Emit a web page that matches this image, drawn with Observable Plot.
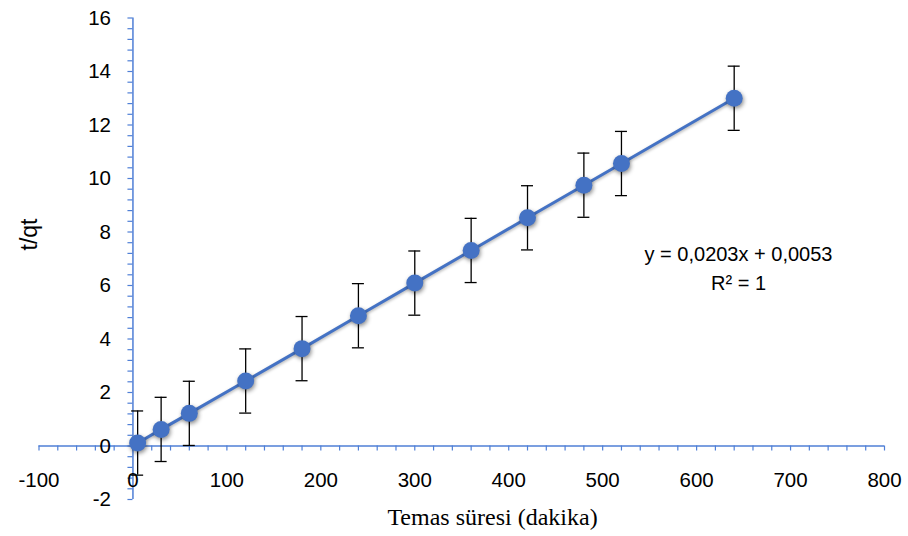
<!DOCTYPE html>
<html>
<head>
<meta charset="utf-8">
<script src="https://cdn.jsdelivr.net/npm/d3@7"></script>
<script src="https://cdn.jsdelivr.net/npm/@observablehq/plot@0.6"></script>
<style>
  html, body { margin: 0; padding: 0; background: #fff; }
  #chart { width: 908px; height: 536px; }
</style>
</head>
<body>
<div id="chart"></div>
<script>
// Data
const times = [5, 30, 60, 120, 180, 240, 300, 360, 420, 480, 520, 640];
const tqt = [0.11, 0.62, 1.22, 2.43, 3.64, 4.87, 6.09, 7.31, 8.53, 9.75, 10.56, 13.0];
const errors = [1.2, 1.2, 1.2, 1.2, 1.2, 1.2, 1.2, 1.2, 1.2, 1.2, 1.2, 1.2];
const xTickLabels = [-100, 0, 100, 200, 300, 400, 500, 600, 700, 800];
const yTickLabels = [-2, 0, 2, 4, 6, 8, 10, 12, 14, 16];
const equationLines = ["y = 0,0203x + 0,0053", "R² = 1"];
const xTitle = "Temas süresi (dakika)";
const yTitle = "t/qt";

const data = times.map((t, i) => ({x: t, y: tqt[i], e: errors[i]}));
const xMinor = d3.range(xTickLabels[0], xTickLabels[xTickLabels.length - 1] + 1, 20);
const yMinor = d3.range(yTickLabels[0], yTickLabels[yTickLabels.length - 1] + 0.01, 0.4).map(v => +v.toFixed(2));

const blue = "#4472C4";
const axisBlue = "#4F7FD6";
const sans = "Liberation Sans, Arial, sans-serif";
const serif = "Liberation Serif, Times New Roman, serif";

const plot = Plot.plot({
  width: 908,
  height: 536,
  margin: 0,
  x: {domain: [xTickLabels[0], xTickLabels[xTickLabels.length - 1]], range: [38.5, 884]},
  y: {domain: [yTickLabels[0], yTickLabels[yTickLabels.length - 1]], range: [499, 17.5]},
  axis: null,
  style: {background: "#fff"},
  marks: [
    // axis lines crossing at origin
    Plot.ruleY([0], {x1: () => xTickLabels[0], x2: () => xTickLabels[xTickLabels.length - 1], stroke: axisBlue, strokeWidth: 1.5}),
    Plot.ruleX([0], {y1: () => yTickLabels[0], y2: () => yTickLabels[yTickLabels.length - 1], stroke: axisBlue, strokeWidth: 1.5}),
    // tick marks
    Plot.ruleX(xMinor, {x: d => d, y1: () => 0, y2: () => 0, insetTop: 0, insetBottom: -5, stroke: axisBlue, strokeWidth: 1.2}),
    Plot.ruleY(yMinor, {y: d => d, x1: () => 0, x2: () => 0, insetLeft: -5, insetRight: 0, stroke: axisBlue, strokeWidth: 1.2}),
    // tick labels
    Plot.text(xTickLabels, {x: d => d, y: () => 0, dy: 34, text: d => String(d), fontSize: 20.5, fontFamily: sans, fill: "#000"}),
    Plot.text(yTickLabels, {x: () => 0, y: d => d, dx: -22, text: d => String(d), textAnchor: "end", fontSize: 20.5, fontFamily: sans, fill: "#000"}),
    // error bars
    Plot.ruleX(data, {x: "x", y1: d => d.y - d.e, y2: d => d.y + d.e, stroke: "#000", strokeWidth: 1.3}),
    Plot.ruleY(data, {y: d => d.y + d.e, x1: "x", x2: "x", insetLeft: -6, insetRight: -6, stroke: "#000", strokeWidth: 1.3}),
    Plot.ruleY(data, {y: d => d.y - d.e, x1: "x", x2: "x", insetLeft: -6, insetRight: -6, stroke: "#000", strokeWidth: 1.3}),
    // series line and markers
    Plot.line(data, {x: "x", y: "y", stroke: blue, strokeWidth: 3}),
    Plot.dot(data, {x: "x", y: "y", r: 8.5, fill: blue, stroke: "none"}),
    // trendline equation
    Plot.text([equationLines[0]], {frameAnchor: "top-left", dx: 738, dy: 254, textAnchor: "middle", lineAnchor: "middle", text: d => d, fontSize: 20, fontFamily: sans, fill: "#000"}),
    Plot.text([equationLines[1]], {frameAnchor: "top-left", dx: 738, dy: 283, textAnchor: "middle", lineAnchor: "middle", text: d => d, fontSize: 20, fontFamily: sans, fill: "#000"}),
    // axis titles
    Plot.text([xTitle], {frameAnchor: "top-left", dx: 492, dy: 517, textAnchor: "middle", lineAnchor: "middle", text: d => d, fontSize: 24, fontFamily: serif, fill: "#000"}),
    Plot.text([yTitle], {frameAnchor: "top-left", dx: 29, dy: 234, textAnchor: "middle", lineAnchor: "middle", text: d => d, rotate: -90, fontSize: 23, fontFamily: sans, fill: "#000"})
  ]
});

plot.querySelectorAll('g[aria-label="dot"] circle').forEach(c => {
  c.style.filter = "drop-shadow(1.5px 2px 2px rgba(0,0,0,0.45))";
});
plot.querySelectorAll('g[aria-label="line"] path').forEach(p => {
  p.style.filter = "drop-shadow(1px 1.5px 1.5px rgba(0,0,0,0.3))";
});
document.getElementById("chart").appendChild(plot);
</script>
</body>
</html>
